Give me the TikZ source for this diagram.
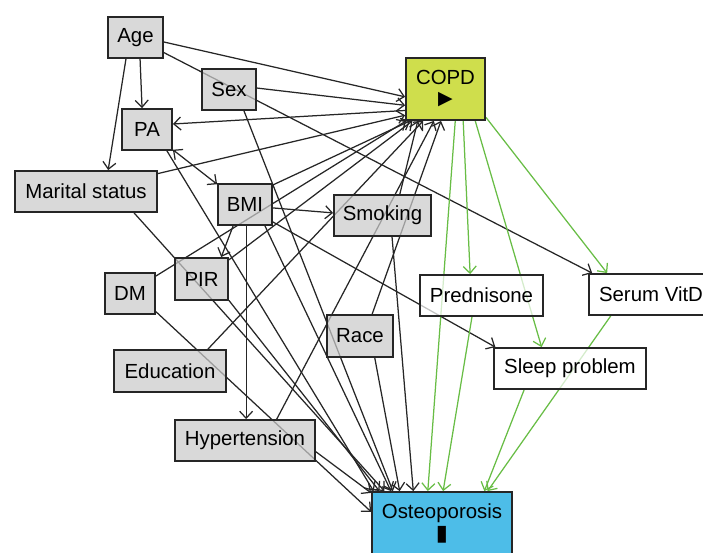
\documentclass[tikz,border=0pt]{standalone}
\usepackage{fontspec}
\setmainfont{Liberation Sans}
\newfontfamily\symfont{DejaVu Sans}
\usetikzlibrary{arrows.meta}
\pgfdeclarelayer{bg}
\pgfsetlayers{bg,main}
\definecolor{copdc}{RGB}{207,222,76}
\definecolor{ostc}{RGB}{77,189,232}
\definecolor{adjc}{RGB}{202,202,202}
\definecolor{pathc}{RGB}{104,189,69}
\definecolor{linec}{RGB}{38,38,38}

\begin{document}
\begin{tikzpicture}[x=1pt, y=-1pt,
    every node/.style={font=\fontsize{20.4}{24}\selectfont},
    box/.style={draw=linec, line width=1.8pt, inner sep=0pt, minimum height=41pt, fill opacity=0.72, text opacity=1},
    adj/.style={box, fill=adjc},
    med/.style={box, fill=white},
    edge/.style={draw=linec, line width=1.25pt, -{Straight Barb[length=7pt,width=13pt]}},
    bi/.style={edge, {Straight Barb[length=7pt,width=13pt]}-{Straight Barb[length=7pt,width=13pt]}},
    cpath/.style={edge, draw=pathc}]
    \useasboundingbox (0,0) rectangle (703,552);
    \clip (0,0) rectangle (703,552);

    \node[adj, minimum width=55pt] (Age) at (135.5,37.5) {Age};
    \node[adj, minimum width=54pt] (Sex) at (229,89.5) {Sex};
    \node[adj, minimum width=50pt] (PA) at (147,129.5) {PA};
    \node[adj, minimum width=142pt] (MS) at (86,191.5) {Marital status};
    \node[adj, minimum width=54pt] (BMI) at (245,204.5) {BMI};
    \node[adj, minimum width=97pt] (Smk) at (382.5,215.5) {Smoking};
    \node[adj, minimum width=50pt] (DM) at (130,293.5) {DM};
    \node[adj, minimum width=53pt, minimum height=42pt] (PIR) at (201.5,279) {PIR};
    \node[adj, minimum width=112pt, minimum height=42pt] (Edu) at (170,371) {Education};
    \node[adj, minimum width=66pt, minimum height=42pt] (Race) at (360,336) {Race};
    \node[adj, minimum width=140pt] (HT) at (245,440.5) {Hypertension};

    \node[med, minimum width=123pt] (Pred) at (481.5,295.5) {Prednisone};
    \node[med, minimum width=124pt] (VitD) at (651,294.5) {Serum VitD};
    \node[med, minimum width=152pt] (Sleep) at (570,368.5) {Sleep problem};

    \node[box, fill=copdc, fill opacity=1, minimum width=79pt, minimum height=62pt, align=center] (COPD) at (445.5,89)
        {COPD\\[-4pt]{\symfont\fontsize{19}{19}\selectfont ▶}};
    \node[box, fill=ostc, fill opacity=1, minimum width=140pt, minimum height=62pt, align=center] (Ost) at (442,523)
        {Osteoporosis\\[-2pt]{\symfont\fontsize{22}{22}\selectfont ▮}};

    \begin{pgfonlayer}{bg}
    \foreach \a/\s/\b/\t in {Age/-9/COPD/191, Age/-78/PA/103, Age/-114/MS/44, Age/-28/VitD/160,
        Sex/3/COPD/202, Sex/-55/Ost/147, COPD/208/PA/12, MS/14/COPD/213, MS/-24/Ost/151,
        BMI/35/COPD/222, BMI/-7/Smk/177, BMI/-119/PIR/48, BMI/-87/HT/87, BMI/-32/Sleep/164,
        BMI/-47/Ost/148, PA/-47/Ost/155, DM/34/COPD/219, DM/-35/Ost/171, PIR/35/COPD/224,
        PIR/-38/Ost/153, Edu/30/COPD/235, HT/34/COPD/250, HT/-9/Ost/157, Race/61/COPD/262,
        Race/-56/Ost/143, Smk/51/COPD/229, Smk/-66/Ost/132}
        \draw[edge] (\a.\s) -- (\b.\t);
    \foreach \a/\s/\b/\t in {COPD/287/Ost/114, COPD/299/Pred/118, COPD/313/Sleep/143,
        COPD/325/VitD/154, Pred/246/Ost/88, Sleep/205/Ost/37, VitD/208/Ost/35}
        \draw[cpath] (\a.\s) -- (\b.\t);
    \draw[bi] (PA.-38) -- (BMI.144);
    \end{pgfonlayer}
\end{tikzpicture}
\end{document}
